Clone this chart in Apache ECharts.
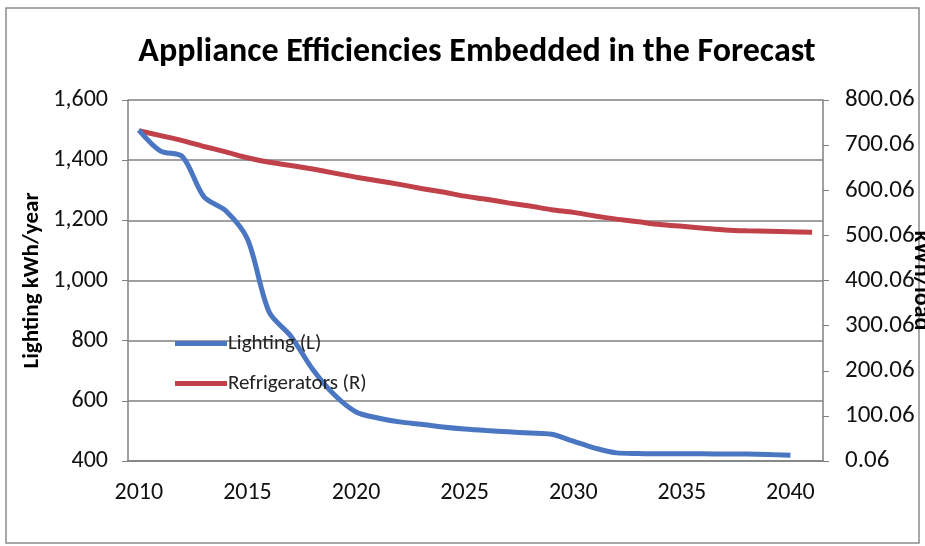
<!DOCTYPE html>
<html>
<head>
<meta charset="utf-8">
<script src="https://cdn.jsdelivr.net/npm/echarts@6/dist/echarts.min.js"></script>
<style>
html,body{margin:0;padding:0;background:#fff;}
#chart{width:925px;height:546px;}
</style>
</head>
<body>
<div id="chart"></div>
<script>
const years = ['2010','2011','2012','2013','2014','2015','2016','2017','2018','2019','2020','2021','2022','2023','2024','2025','2026','2027','2028','2029','2030','2031','2032','2033','2034','2035','2036','2037','2038','2039','2040','2041'];
const lighting = [1500,1430,1412,1278,1232,1138,895,815,705,620,563,543,530,522,513,506,501,497,493,489,466,443,427,425,424,424,424,423,423,422,419];
const refrigerators = [732,721,710,697,685,672,662,655,647,638,629,621,613,604,596,587,580,572,565,557,551,543,536,530,524,520,516,512,510,509,508,507];
const leftTicks = {min:400, max:1600, interval:200};
const rightTicks = {min:0, max:800, interval:100};

const FONT = "Carlito, 'Liberation Sans Narrow', 'Liberation Sans', sans-serif";
const chart = echarts.init(document.getElementById('chart'));
chart.setOption({
  animation:false,
  backgroundColor:'#fff',
  title:{
    text:'Appliance Efficiencies Embedded in the Forecast',
    left:472, textAlign:'center', top:30,
    textStyle:{fontFamily:FONT, fontWeight:'bold', fontSize:34, color:'#000'}
  },
  graphic:[{type:'rect', shape:{x:6,y:8,width:913,height:535}, style:{fill:'none', stroke:'#8c8c8c', lineWidth:1.5}, silent:true}],
  legend:{
    orient:'vertical', left:170, top:328, itemGap:19,
    itemWidth:52, itemHeight:5, icon:'rect',
    textStyle:{fontFamily:FONT, fontSize:21, color:'#222', padding:[0,0,0,-4]},
    data:['Lighting (L)','Refrigerators (R)']
  },
  grid:{left:128, right:102, top:100, bottom:85, containLabel:false, outerBoundsMode:'none'},
  xAxis:{
    type:'category', data:years, boundaryGap:true,
    axisLine:{lineStyle:{color:'#808080', width:1.5}},
    axisTick:{interval:0, length:6, lineStyle:{color:'#808080'}},
    axisLabel:{interval:4, fontFamily:FONT, fontSize:24, color:'#111', margin:20}
  },
  yAxis:[{
    type:'value', min:leftTicks.min, max:leftTicks.max, interval:leftTicks.interval,
    name:'Lighting kWh/year', nameLocation:'middle', nameGap:84, nameMoveOverlap:false,
    nameTextStyle:{fontFamily:FONT, fontWeight:'bold', fontSize:23, color:'#000'},
    axisLine:{show:true, lineStyle:{color:'#808080', width:1.5}},
    axisTick:{show:true, length:6, lineStyle:{color:'#808080'}},
    axisLabel:{fontFamily:FONT, fontSize:24, color:'#111', margin:20,
      formatter:v=>v.toLocaleString('en-US')},
    splitLine:{lineStyle:{color:'#808080', width:1.5}}
  },{
    type:'value', position:'right', min:rightTicks.min, max:rightTicks.max, interval:rightTicks.interval,
    name:'kWh/load', nameLocation:'middle', nameGap:86, nameRotate:-90, nameMoveOverlap:false,
    nameTextStyle:{fontFamily:FONT, fontWeight:'bold', fontSize:24, color:'#000'},
    axisLine:{show:true, lineStyle:{color:'#808080', width:1.5}},
    axisTick:{show:true, length:6, lineStyle:{color:'#808080'}},
    axisLabel:{fontFamily:FONT, fontSize:25, color:'#111', margin:22,
      formatter:v=>(v+0.06).toFixed(2)},
    splitLine:{show:false}
  }],
  series:[{
    name:'Lighting (L)', type:'line', yAxisIndex:0, data:lighting,
    smooth:0.3, showSymbol:false, color:'#4a76c2',
    lineStyle:{width:5, color:'#4a76c2'}, z:3
  },{
    name:'Refrigerators (R)', type:'line', yAxisIndex:1, data:refrigerators,
    smooth:0.3, showSymbol:false, color:'#c0414a',
    lineStyle:{width:5, color:'#c0414a'}, z:2
  }]
});
</script>
</body>
</html>
